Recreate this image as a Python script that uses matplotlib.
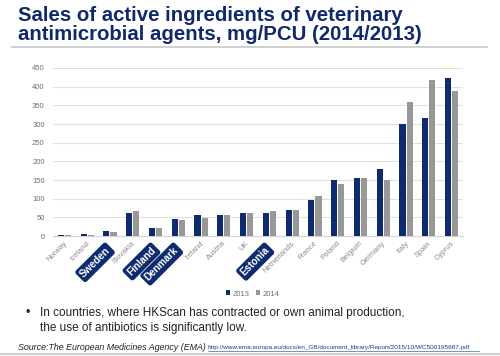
import matplotlib
matplotlib.use("Agg")
import matplotlib.pyplot as plt
import numpy as np

countries = ["Norway", "Iceland", "Sweden", "Slovakia", "Finland", "Denmark", "Ireland",
             "Austria", "UK", "Estonia", "Netherlands", "France", "Poland", "Belgium",
             "Germany", "Italy", "Spain", "Cyprus"]
v2013 = [3, 5, 13, 62, 22, 45, 56, 56, 62, 62, 70, 96, 151, 156, 180, 301, 317, 424]
v2014 = [3, 4, 11, 67, 22, 44, 47, 56, 62, 68, 69, 106, 139, 156, 149, 359, 417, 389]
highlight = ["Sweden", "Finland", "Denmark", "Estonia"]
yticks = [0, 50, 100, 150, 200, 250, 300, 350, 400, 450]

navy = "#0d2b6e"
grey = "#989898"
title_col = "#11296b"

plt.rcParams['font.family'] = ['Liberation Sans', 'DejaVu Sans']
fig = plt.figure(figsize=(5.0, 3.56), dpi=100)

fig.text(0.036, 0.982, "Sales of active ingredients of veterinary\nantimicrobial agents, mg/PCU (2014/2013)",
         ha="left", va="top", fontsize=14.7, fontweight="bold", color=title_col, linespacing=0.98)
fig.add_artist(plt.Line2D([0.024, 0.974], [0.868, 0.868], color="#c8c8c8", lw=1.2))

ax = fig.add_axes([0.106, 0.337, 0.82, 0.472])
x = np.arange(len(countries))
w = 0.27
ax.bar(x - 0.155, v2013, w, color=navy, label="2013", zorder=3)
ax.bar(x + 0.155, v2014, w, color=grey, label="2014", zorder=3)
ax.set_xlim(-0.5, len(countries) - 0.5)
ax.set_ylim(0, 450)
ax.set_yticks(yticks)
ax.tick_params(axis="y", labelsize=5.5, labelcolor="#707070", length=0, pad=6)
ax.tick_params(axis="x", length=0)
ax.grid(axis="y", color="#e0e0e0", lw=0.8, zorder=0)
for s in ["top", "right", "left"]:
    ax.spines[s].set_visible(False)
ax.spines["bottom"].set_color("#d0d0d0")
ax.set_xticks(x)
ax.set_xticklabels([])
for i, c in enumerate(countries):
    if c in highlight:
        ax.text(i - 0.22, -25, c, rotation=45, ha="right", va="top", fontsize=7.2,
                fontweight="bold", color="white", rotation_mode="anchor", zorder=5,
                bbox=dict(boxstyle="round,pad=0.2,rounding_size=0.2", fc=navy, ec=navy))
    else:
        ax.text(i - 0.05, -10, c, rotation=45, ha="right", va="top", fontsize=5.5,
                color="#8a8a8a", rotation_mode="anchor", zorder=4)

leg = fig.legend(loc="center", bbox_to_anchor=(0.505, 0.174), ncol=2, frameon=False,
                 fontsize=5.5, handlelength=0.6, handleheight=0.6, columnspacing=0.8,
                 handletextpad=0.3)
for t in leg.get_texts():
    t.set_color("#707070")

fig.text(0.05, 0.12, "•", fontsize=9, va="center", color="#222222")
fig.text(0.08, 0.12, "In countries, where HKScan has contracted or own animal production,",
         fontsize=8.45, va="center", color="#222222")
fig.text(0.08, 0.08, "the use of antibiotics is significantly low.",
         fontsize=8.45, va="center", color="#222222")
fig.text(0.037, 0.025, "Source:The European Medicines Agency (EMA)", fontsize=6.4,
         style="italic", va="center", color="#222222")
fig.text(0.416, 0.025, "http://www.ema.europa.eu/docs/en_GB/document_library/Report/2015/10/WC500195687.pdf",
         fontsize=4.6, va="center", color="#1a3a8a")
fig.add_artist(plt.Line2D([0.416, 0.958], [0.014, 0.014], color="#1a3a8a", lw=0.4))
fig.add_artist(plt.Line2D([0.0, 1.0], [0.006, 0.006], color="#d0d0d0", lw=1.5))

fig.savefig("out.png", dpi=100)
